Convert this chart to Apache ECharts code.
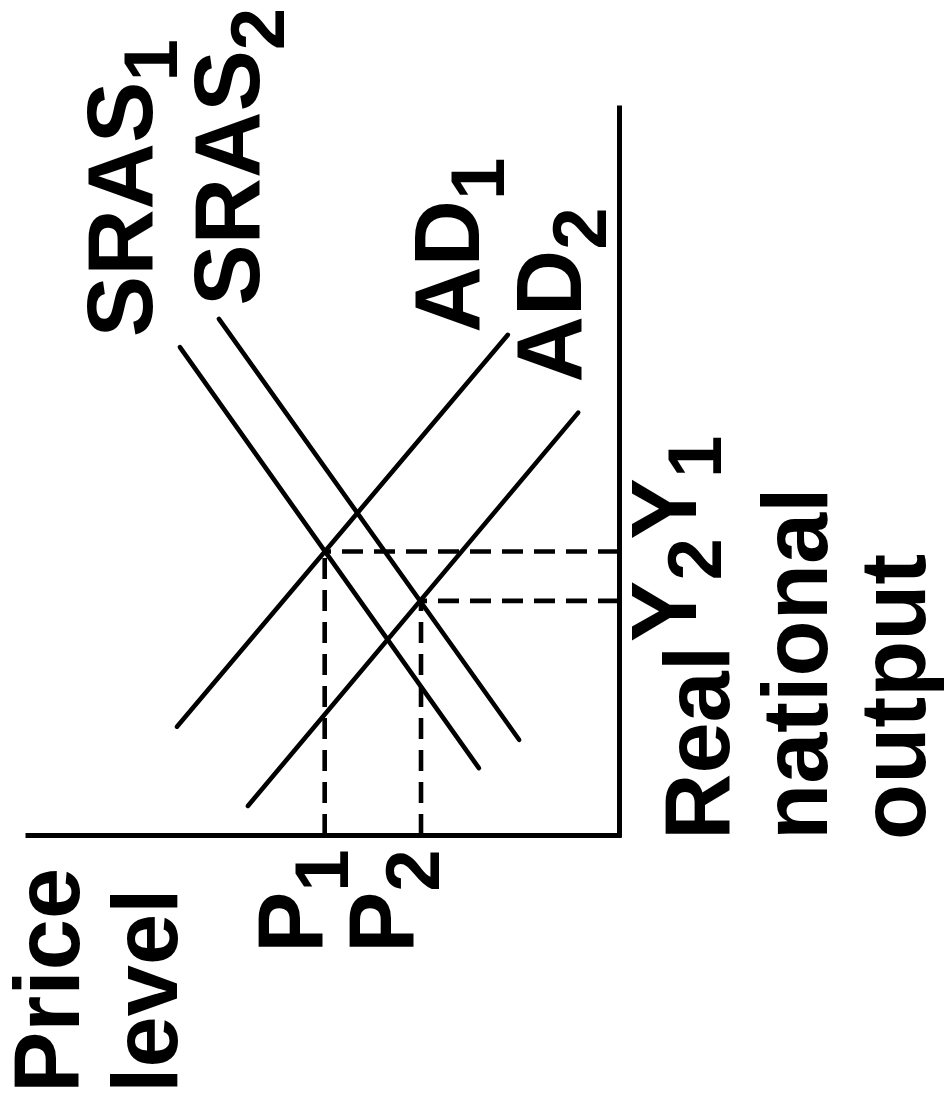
<!DOCTYPE html>
<html>
<head>
<meta charset="utf-8">
<script src="https://cdn.jsdelivr.net/npm/echarts@6/dist/echarts.min.js"></script>
<style>
  html, body { margin: 0; padding: 0; background: #ffffff; }
  #chart { width: 951px; height: 1112px; }
</style>
</head>
<body>
<div id="chart"></div>
<script>
// Curve end points as [price level, real national output]
const sras1 = [[23.7, 9.2], [74.3, 67.1]];
const sras2 = [[16.9, 13.1], [67.7, 71.0]];
const ad1 = [[18.8, 68.8], [74.8, 14.9]];
const ad2 = [[6.9, 58.1], [62.8, 4.0]];

// Equilibrium values: [P1, P2] and [Y1, Y2]
const priceLevels = [49.8, 33.5];
const outputs = [39.0, 32.2];

// Text drawn on the diagram: [main text, subscript]
const curveLabels = [['SRAS', '1'], ['SRAS', '2'], ['AD', '1'], ['AD', '2']];
const priceLabels = [['P', '1'], ['P', '2']];
const outputLabels = [['Y', '1'], ['Y', '2']];
const priceTitle = ['Price', 'level'];
const outputTitle = ['Real', 'national', 'output'];

const FONT = '"Liberation Sans", Arial, Helvetica, sans-serif';
const BIG = 92;
const SUB = 76;
const SUB_SHIFT = 24;
const MID_TO_BASE = 0.345; // distance from the 'middle' baseline to the alphabetic one, in em

const chart = echarts.init(document.getElementById('chart'), null, { renderer: 'canvas' });

const solid = { color: '#000', width: 4.6, cap: 'round' };
const dashed = { color: '#000', width: 4.6, type: [21, 11] };

function lineSeries(data, style) {
  return {
    type: 'line', data: data, symbol: 'none', silent: true,
    lineStyle: style, animation: false, z: 3
  };
}

const series = [
  lineSeries(sras1, solid),
  lineSeries(sras2, solid),
  lineSeries(ad1, solid),
  lineSeries(ad2, solid)
];
// Dashed guides from each equilibrium to both axes
for (let i = 0; i < 2; i++) {
  series.push(lineSeries([[priceLevels[i], 0], [priceLevels[i], outputs[i]]], dashed));
  series.push(lineSeries([[0, outputs[i]], [priceLevels[i], outputs[i]]], dashed));
}

const axisCommon = {
  type: 'value', min: 0, max: 100,
  axisTick: { show: false }, axisLabel: { show: false }, splitLine: { show: false },
  axisLine: { show: true, onZero: false, lineStyle: { color: '#000', width: 5, cap: 'square' } }
};

chart.setOption({
  animation: false,
  backgroundColor: '#ffffff',
  grid: { left: 28, right: 332, top: 108, bottom: 277 },
  xAxis: Object.assign({}, axisCommon, { position: 'bottom', inverse: true }),
  yAxis: Object.assign({}, axisCommon, { position: 'right' }),
  series: series
});

// Rotated text (reads bottom to top), anchored at the start of the baseline
const ctx = document.createElement('canvas').getContext('2d');
function textWidth(t, size) {
  ctx.font = 'bold ' + size + 'px ' + FONT;
  return ctx.measureText(t).width;
}
function textEl(t, size, x, y) {
  return {
    type: 'text', x: x, y: y - MID_TO_BASE * size, silent: true,
    style: {
      text: t, fill: '#000', fontFamily: FONT, fontWeight: 'bold', fontSize: size,
      align: 'left', verticalAlign: 'middle'
    }
  };
}
function rotatedLabel(parts, bx, by) {
  const children = [textEl(parts[0], BIG, 0, 0)];
  if (parts[1]) children.push(textEl(parts[1], SUB, textWidth(parts[0], BIG), SUB_SHIFT));
  return { type: 'group', x: bx, y: by, rotation: Math.PI / 2, children: children };
}

const px = v => chart.convertToPixel({ gridIndex: 0 }, v);
const graphics = [];

// Curve names beside the upper end of each curve
const curveTops = [sras1[1], sras2[1], ad1[0], ad2[0]];
const curveOffsets = [[-22, -10], [46, -13], [-23, -2], [9, -30]];
curveLabels.forEach((lab, i) => {
  const p = px(curveTops[i]);
  graphics.push(rotatedLabel(lab, p[0] + curveOffsets[i][0], p[1] + curveOffsets[i][1]));
});

// P1, P2 under the price axis
const priceOffsets = [5, -1];
priceLabels.forEach((lab, i) => {
  const p = px([priceLevels[i], 0]);
  graphics.push(rotatedLabel(lab, p[0] + priceOffsets[i], p[1] + 118));
});

// Y1, Y2 beside the output axis
const outputOffsets = [-12, 41];
outputLabels.forEach((lab, i) => {
  const p = px([0, outputs[i]]);
  graphics.push(rotatedLabel(lab, p[0] + 83, p[1] + outputOffsets[i]));
});

// Axis titles
const origin = px([100, 0]);
priceTitle.forEach((t, i) => graphics.push(rotatedLabel([t], origin[0] + 57 + i * 98, 1093)));
const corner = px([0, 0]);
outputTitle.forEach((t, i) => graphics.push(rotatedLabel([t], corner[0] + 116 + i * 98, corner[1] + 5)));

chart.setOption({ graphic: graphics });
</script>
</body>
</html>
